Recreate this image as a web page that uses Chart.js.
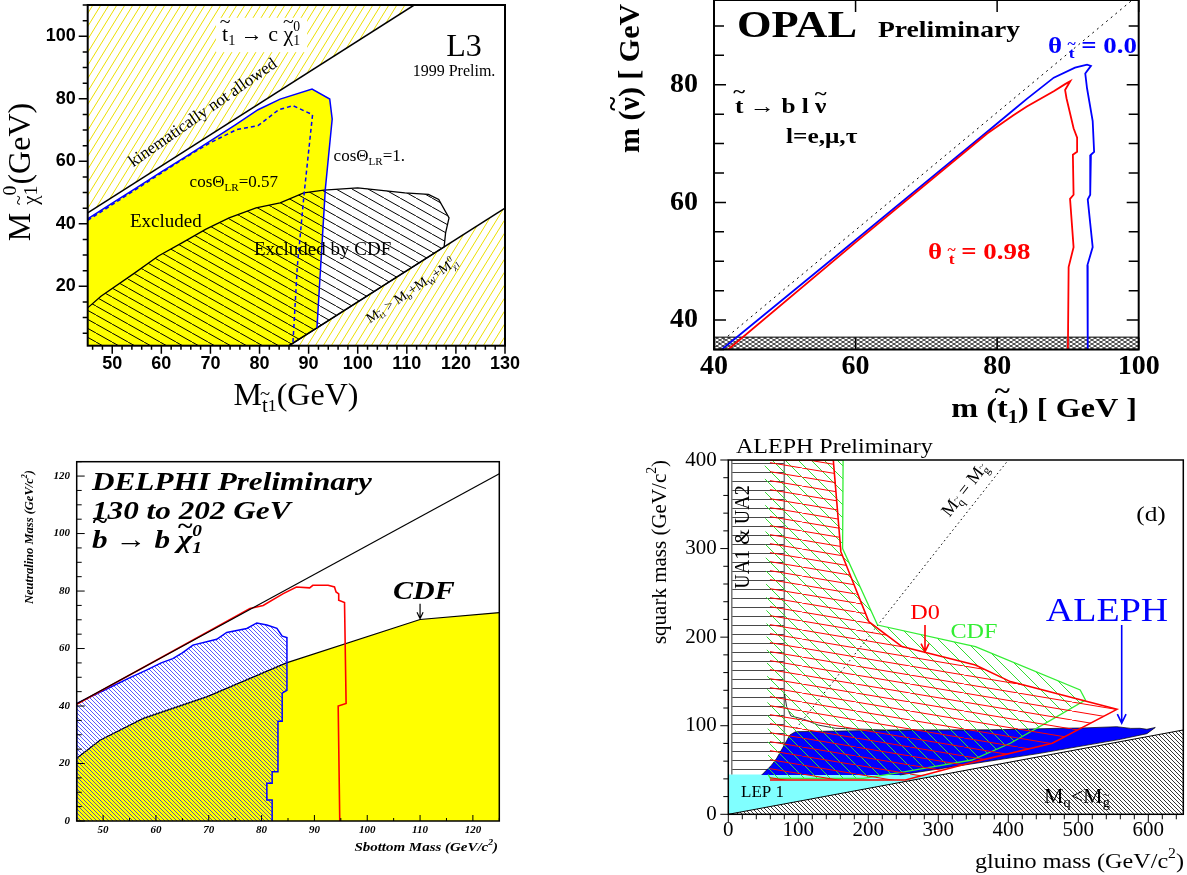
<!DOCTYPE html>
<html>
<head>
<meta charset="utf-8">
<title>Squark / sbottom / stop exclusion plots</title>
<script src="https://cdn.jsdelivr.net/npm/chart.js"></script>
<style>
  body { margin: 0; background: #fff; }
  #wrap { position: relative; width: 1187px; height: 875px; overflow: hidden; background: #fff; }
  canvas { position: absolute; }
</style>
</head>
<body>
<div id="wrap">
  <canvas id="l3" width="530" height="420" style="left:0;top:0"></canvas>
  <canvas id="opal" width="587" height="430" style="left:600px;top:0"></canvas>
  <canvas id="delphi" width="520" height="435" style="left:0;top:440px"></canvas>
  <canvas id="aleph" width="547" height="443" style="left:640px;top:432px"></canvas>
</div>
<script>
// ---------- data ----------

// L3: stop -> c chi
const l3XLabels = [50, 60, 70, 80, 90, 100, 110, 120, 130];
const l3YLabels = [20, 40, 60, 80, 100];
const l3Kin = [[45, 43.5], [111.5, 110]];
const l3W = [[86, 1], [130, 45]];
const l3Cos1 = [[45, 41.6], [50, 46.6], [55, 51.6], [60, 56.6], [65, 61.5], [70, 66.5], [75, 71.6], [79.7, 76.5],
  [84.2, 79.9], [90.7, 83.1], [94.3, 79.9], [94.8, 73.5], [93.4, 51.1], [91.7, 6.7]];
const l3Cos057 = [[45, 41.1], [55, 51.2], [65, 61.3], [69.8, 65.8], [75.3, 70.1], [79.7, 71.4], [83.9, 76.5],
  [86.8, 77.8], [90.8, 74.9], [89.1, 49.9], [87.7, 26.4], [86.8, 1.8]];
const l3Cdf = [[45, 13.1], [47.7, 16.8], [54.6, 24.3], [59.4, 29.7], [64.2, 33.9], [69, 38.2], [73.8, 41.9],
  [79.3, 45.1], [84.2, 46.7], [89, 49.9], [93.1, 50.8], [100, 51.5], [109.6, 49.9], [114.4, 49.4],
  [116.5, 47.8], [118.6, 41.9], [117.9, 37.1], [117.6, 32.6]];

// OPAL: stop -> b l sneutrino
const opXLabels = [40, 60, 80, 100];
const opYLabels = [40, 60, 80];
const opKin = [[40, 35.3], [99.4, 94.7]];
const opBand = [[40, 35], [100, 35], [100, 37.1], [40, 37.1]];
const opTheta0 = [[41.1, 35], [60, 53.6], [78.6, 72.0], [82.3, 75.7], [84.2, 77.6], [88, 81.2], [91, 82.9],
  [92.7, 83.4], [93.25, 83.2], [92.45, 81.9], [92.7, 79.4], [93.5, 73.8], [93.7, 68.6], [93.25, 68.1],
  [93.15, 61.3], [92.8, 60.5], [93.5, 52.4], [92.75, 49.3], [92.8, 35]];
const opTheta098 = [[42, 35], [60, 53.2], [78.6, 71.7], [82.3, 74.8], [84.2, 76.3], [88, 78.9], [89.6, 80.1],
  [90.33, 80.6], [89.6, 79.1], [89.8, 77.7], [90.8, 72.6], [91.3, 71.0], [91.3, 68.6], [90.7, 68.1],
  [90.8, 61.3], [90.3, 60.6], [90.8, 52.4], [90.1, 49.0], [90.0, 35]];

// DELPHI: sbottom -> b chi
const dlXLabels = [50, 60, 70, 80, 90, 100, 110, 120];
const dlYLabels = [0, 20, 40, 60, 80, 100, 120];
const dlKin = [[45, 40.8], [125, 120.8]];
const dlCdf = [[45, 21.8], [49.4, 28.1], [57.6, 35.7], [69.6, 43.2], [84.7, 55], [110, 70.1], [125, 72.5]];
const dlCdfArrow = [[110, 75.6], [110, 70.4]];
const dlBlue = [[45, 0], [45, 40.9], [50, 45.3], [55, 49.8], [58.2, 52.5], [61, 55], [63.2, 56.5], [65, 58.5],
  [67, 61.2], [71.5, 63.2], [73.4, 65.6], [77.2, 67], [79.1, 68.9], [81, 68.2], [82.9, 67], [83.9, 64.3],
  [84.8, 63.8], [84.8, 45.5], [83.9, 44.5], [83.9, 34.7], [83.1, 34.7], [83.1, 17.1], [82, 17.1], [82, 13.1],
  [81, 13.1], [81, 7.3], [82, 7.3], [82, 0]];
const dlRed = [[45, 40.6], [77.8, 73.9], [80.3, 75], [84.1, 79.1], [86.6, 81.4], [89.1, 81.1], [89.7, 82],
  [92.6, 82], [93.8, 81.4], [94.1, 79.7], [94.6, 79], [94.6, 76.8], [95.7, 76], [96, 40.9], [94.5, 40], [94.8, 0]];

// ALEPH: squark / gluino plane
const alXLabels = [0, 100, 200, 300, 400, 500, 600];
const alYLabels = [0, 100, 200, 300, 400];
const alDiag = [[0, 0], [650, 95.2]];
const alBelowDiag = [[0, 0], [650, 95.2], [650, 0]];
const alLep1 = [[0, 0], [0, 45], [307, 45]];
const alUA = [[5, 45], [5, 400], [80, 400], [80, 45]];
const alUAEdge = [[80, 137], [83.4, 121.5], [89.4, 111], [108.3, 107.2], [128.3, 100.8], [153.3, 97.1],
  [223, 95.2], [430, 95]];
const alEqual = [[97, 97], [400, 400]];
const alBlue = [[47.6, 44.4], [50, 46.3], [62, 55.6], [69.1, 63.2], [78.6, 76.3], [87.9, 89.5], [96, 93.3],
  [200, 94.5], [373, 95.2], [473, 97.1], [507, 97.5], [555, 98.9], [575, 97], [588, 97.1], [598, 96],
  [610, 98], [598, 91], [560, 84.6], [445, 68.8], [245, 44.4]];
const alCdf = [[52, 400], [164, 400], [163.3, 300], [213.2, 213.7], [353, 189.3], [502.7, 140.4], [510.2, 129.1],
  [452.8, 102.7], [402.9, 80.2], [348, 61.3], [253, 48.2], [193, 40.6], [60, 40.6], [57, 45]];
const alD0 = [[59.5, 400], [150, 400], [160.8, 296.5], [200.7, 217.5], [248.1, 189.3], [353, 168.6],
  [402.9, 149.8], [555.2, 118.5], [462.8, 80.2], [353, 59.5], [253.1, 38.8], [59.5, 38.8]];
const alD0Arrow = [[281, 213.7], [281, 183.5]];
const alAlephArrow = [[562, 213.7], [562, 103]];

// ---------- helpers ----------
const P = a => a.map(([x, y]) => ({ x, y }));
const decorCfg = {};

function hatch(id, o) {
  const t = document.createElement('canvas');
  t.width = o.w; t.height = o.h;
  const g = t.getContext('2d');
  if (o.bg) { g.fillStyle = o.bg; g.fillRect(0, 0, o.w, o.h); }
  g.strokeStyle = o.color; g.lineWidth = o.lw || 1;
  g.beginPath();
  for (let k = -1; k <= 1; k++) {
    if (o.dir.includes('\\')) { g.moveTo(k * o.w, 0); g.lineTo((k + 1) * o.w, o.h); }
    if (o.dir.includes('/')) { g.moveTo(k * o.w, o.h); g.lineTo((k + 1) * o.w, 0); }
  }
  if (o.dir.includes('-')) { g.moveTo(0, o.h / 2); g.lineTo(o.w, o.h / 2); }
  g.stroke();
  return document.getElementById(id).getContext('2d').createPattern(t, 'repeat');
}

function area(data, fill, line, width, dash) {
  return {
    data: P(data), fill: fill ? 'shape' : false, backgroundColor: fill || 'transparent',
    borderColor: line || 'transparent', borderWidth: width || 1, borderDash: dash || []
  };
}
const line = (data, color, width, dash) => area(data, null, color, width, dash);

function drawRich(ctx, L, off) {
  const base = L.size, fam = L.family || 'Liberation Serif';
  const font = s => (L.italic ? 'italic ' : '') + (L.bold ? 'bold ' : '') + s + 'px "' + fam + '"';
  const items = L.parts.map(p => typeof p === 'string' ? { t: p } : Object.assign({}, p));
  let w = 0;
  items.forEach(it => {
    if (it.sup !== undefined) {
      it.fs = base * 0.62; ctx.font = font(it.fs);
      it.w = Math.max(ctx.measureText(it.sup).width, ctx.measureText(it.sub).width) + 1;
    } else {
      it.fs = base * (it.v ? 0.65 : 1) * (it.k || 1); ctx.font = font(it.fs);
      it.w = ctx.measureText(it.t).width;
    }
    w += it.w;
  });
  ctx.save();
  ctx.translate(L.px[0] - off[0], L.px[1] - off[1]);
  if (L.rot) ctx.rotate(L.rot * Math.PI / 180);
  if (L.sx) ctx.scale(L.sx, 1);
  let x = L.align === 'right' ? -w : L.align === 'left' ? 0 : -w / 2;
  if (L.box) {
    ctx.fillStyle = '#fff';
    ctx.fillRect(x - 6, -base * 0.78, w + 12, base * 1.56);
  }
  ctx.fillStyle = L.color || '#000';
  ctx.textBaseline = 'middle'; ctx.textAlign = 'left';
  items.forEach(it => {
    ctx.font = font(it.fs);
    if (it.sup !== undefined) {
      ctx.fillText(it.sup, x, -base * 0.36);
      ctx.fillText(it.sub, x, base * 0.3);
    } else {
      const y = it.v === -1 ? base * 0.3 : it.v === 1 ? -base * 0.38 : 0;
      ctx.fillText(it.t, x, y);
      if (it.tl) {
        ctx.save(); ctx.textAlign = 'center'; ctx.font = font(it.fs * 0.9);
        ctx.fillText('~', x + it.w / 2, y - it.fs * (it.th || 0.55));
        ctx.restore();
      }
    }
    x += it.w;
  });
  ctx.restore();
}

const decor = {
  id: 'decor',
  afterDraw(chart) {
    const o = decorCfg[chart.canvas.id];
    const ctx = chart.ctx, a = chart.chartArea;
    ctx.save();
    ctx.strokeStyle = '#000';
    (o.marks || []).forEach(m => {
      const s = chart.scales[m.axis];
      ctx.lineWidth = m.lw || 1;
      ctx.beginPath();
      const first = Math.ceil(s.min / m.step - 1e-9) * m.step;
      for (let v = first; v <= s.max + 1e-9; v += m.step) {
        const vv = Math.round(v * 1000) / 1000;
        const len = m.major.includes(vv) ? m.len : m.mlen;
        const p = s.getPixelForValue(vv);
        const sg = m.side === 'in' ? 1 : -1;
        if (m.axis === 'x') {
          ctx.moveTo(p, a.bottom); ctx.lineTo(p, a.bottom - sg * len);
          if (m.mirror) { ctx.moveTo(p, a.top); ctx.lineTo(p, a.top + len); }
        } else {
          ctx.moveTo(a.left, p); ctx.lineTo(a.left + sg * len, p);
          if (m.mirror) { ctx.moveTo(a.right, p); ctx.lineTo(a.right - len, p); }
        }
      }
      ctx.stroke();
    });
    ctx.lineWidth = o.frame;
    ctx.strokeRect(a.left, a.top, a.right - a.left, a.bottom - a.top);
    const sx = chart.scales.x, sy = chart.scales.y;
    (o.arrows || []).forEach(ar => {
      const [x0, y0] = [sx.getPixelForValue(ar.data[0][0]), sy.getPixelForValue(ar.data[0][1])];
      const [x1, y1] = [sx.getPixelForValue(ar.data[1][0]), sy.getPixelForValue(ar.data[1][1])];
      const ang = Math.atan2(y1 - y0, x1 - x0), h = ar.head;
      ctx.strokeStyle = ar.color; ctx.lineWidth = ar.width;
      ctx.beginPath();
      ctx.moveTo(x0, y0); ctx.lineTo(x1, y1);
      ctx.moveTo(x1 - h * Math.cos(ang - 0.45), y1 - h * Math.sin(ang - 0.45));
      ctx.lineTo(x1, y1);
      ctx.lineTo(x1 - h * Math.cos(ang + 0.45), y1 - h * Math.sin(ang + 0.45));
      ctx.stroke();
    });
    (o.labels || []).forEach(L => drawRich(ctx, L, o.offset));
    ctx.restore();
  }
};

function axis(min, max, labels, font, pad, size, isX) {
  return {
    type: 'linear', min, max,
    grid: { display: false, drawTicks: false },
    border: { display: false },
    ticks: { font, color: '#000', padding: pad, autoSkip: false, maxRotation: 0, minRotation: 0 },
    afterBuildTicks: s => { s.ticks = labels.map(v => ({ value: v })); },
    afterFit: s => {
      if (isX) s.height = size; else s.width = size;
      s.paddingLeft = s.paddingRight = s.paddingTop = s.paddingBottom = 0;
    }
  };
}

function makeChart(id, c) {
  const n = c.datasets.length;
  c.datasets.forEach((d, i) => { d.order = n - i; d.pointRadius = 0; d.tension = 0; });
  decorCfg[id] = c.decor;
  return new Chart(document.getElementById(id), {
    type: 'line',
    data: { datasets: c.datasets },
    options: {
      responsive: false, animation: false, events: [],
      layout: { padding: c.pad },
      plugins: { legend: { display: false }, tooltip: { enabled: false }, title: { display: false } },
      scales: { x: c.x, y: c.y }
    },
    plugins: [decor]
  });
}

const t = (s, o) => Object.assign({ t: s }, o || {});

// ---------- L3 ----------
{
  const sans = { family: 'Liberation Sans', size: 18, weight: 'bold' };
  const yHatch = hatch('l3', { w: 8, h: 13, dir: '/', color: '#ecdf00', lw: 1 });
  const kHatch = hatch('l3', { w: 16, h: 9, dir: '\\', color: '#000', lw: 1 });
  makeChart('l3', {
    pad: { left: 0, top: 5, right: 25, bottom: 0 },
    x: axis(45, 130, l3XLabels, sans, 7.5, 74.3, true),
    y: axis(1, 110, l3YLabels, sans, 12, 87.7, false),
    datasets: [
      area([[45, 1], ...l3Cos1, [86, 1]], '#ffff00'),
      area([...l3Cdf, [86, 1], [45, 1]], kHatch, '#000', 1.3),
      area([...l3Kin, [45, 110]], yHatch),
      area([...l3W, [130, 1]], yHatch),
      line(l3Kin, '#000', 1.5),
      line(l3W, '#000', 1.5),
      line(l3Cos1, '#0000ff', 1.5),
      line(l3Cos057, '#0000ff', 1.5, [4, 3])
    ],
    decor: {
      offset: [0, 0], frame: 2,
      marks: [
        { axis: 'x', step: 2, major: l3XLabels, len: 8, mlen: 4, side: 'out', lw: 1.5 },
        { axis: 'y', step: 5, major: l3YLabels, len: 9, mlen: 5, side: 'out', lw: 1.5 }
      ],
      labels: [
        { px: [261.6, 35], size: 22, box: true,
          parts: [t('t', { tl: 1 }), t('1', { v: -1 }), ' \u2192 c ', t('\u03c7', { tl: 1 }), { sup: '0', sub: '1' }] },
        { px: [464, 48], size: 32, parts: ['L3'] },
        { px: [454, 72], size: 16, parts: ['1999 Prelim.'] },
        { px: [203, 113], size: 17, rot: -35, parts: ['kinematically not allowed'] },
        { px: [333.6, 157], size: 17, align: 'left', parts: ['cos\u0398', t('LR', { v: -1 }), '=1.'] },
        { px: [189.6, 183], size: 17, align: 'left', parts: ['cos\u0398', t('LR', { v: -1 }), '=0.57'] },
        { px: [130, 222], size: 19, align: 'left', parts: ['Excluded'] },
        { px: [254, 250], size: 19, align: 'left', parts: ['Excluded by CDF'] },
        { px: [413, 290], size: 14, rot: -34,
          parts: ['M', t('t', { v: -1, tl: 1 }), t('1', { v: -1, k: 0.8 }), ' > M', t('b', { v: -1 }), '+M',
            t('W', { v: -1 }), '+M', { sup: '0', sub: '\u03c71' }] },
        { px: [22, 172], size: 32, rot: -90,
          parts: ['M ', t('\u03c7', { v: -1, tl: 1 }), { sup: '0', sub: '1' }, '(GeV)'] },
        { px: [296, 397], size: 32,
          parts: ['M', t('t', { v: -1, tl: 1 }), t('1', { v: -1, k: 0.85 }), '(GeV)'] }
      ]
    }
  });
}

// ---------- OPAL ----------
{
  const serif = { family: 'Liberation Serif', size: 28, weight: 'bold' };
  const band = hatch('opal', { w: 6, h: 4, dir: '/\\', color: '#000', lw: 0.8, bg: '#fff' });
  makeChart('opal', {
    pad: { left: 0, top: 0, right: 48.3, bottom: 0 },
    x: axis(40, 100, opXLabels, serif, 0, 80.5, true),
    y: axis(35, 94.4, opYLabels, serif, 16, 114, false),
    datasets: [
      area(opBand, band, '#000', 1),
      line(opKin, '#000', 1, [2, 4]),
      line(opTheta0, '#0000ff', 1.8),
      line(opTheta098, '#ff0000', 1.8)
    ],
    decor: {
      offset: [600, 0], frame: 2,
      marks: [
        { axis: 'x', step: 20, major: opXLabels, len: 12, mlen: 6, side: 'in', mirror: true, lw: 1.5 },
        { axis: 'y', step: 5, major: opYLabels, len: 12, mlen: 10, side: 'in', mirror: true, lw: 1.5 }
      ],
      labels: [
        { px: [737, 27], size: 37, bold: true, sx: 1.2, align: 'left', parts: ['OPAL'] },
        { px: [878, 31], size: 23, bold: true, sx: 1.2, align: 'left', parts: ['Preliminary'] },
        { px: [1048, 47], size: 24, bold: true, sx: 1.12, align: 'left', color: '#0000ff',
          parts: ['\u03b8 ', t('t', { v: -1, tl: 1 }), ' = 0.0'] },
        { px: [735, 107], size: 22, bold: true, sx: 1.15, align: 'left',
          parts: [t('t', { tl: 1, th: 0.62 }), ' \u2192 b l ', t('\u03bd', { tl: 1 })] },
        { px: [786, 137], size: 22, bold: true, sx: 1.15, align: 'left', parts: ['l=e,\u03bc,\u03c4'] },
        { px: [928, 253], size: 24, bold: true, sx: 1.12, align: 'left', color: '#ff0000',
          parts: ['\u03b8 ', t('t', { v: -1, tl: 1 }), ' = 0.98'] },
        { px: [631, 153], size: 30, bold: true, rot: -90, align: 'left',
          parts: ['m (', t('\u03bd', { tl: 1 }), ') [ GeV ]'] },
        { px: [1137, 410], size: 28, bold: true, sx: 1.15, align: 'right',
          parts: ['m (', t('t', { tl: 1, th: 0.62 }), t('1', { v: -1 }), ') [ GeV ]'] }
      ]
    }
  });
}

// ---------- DELPHI ----------
{
  const small = { family: 'Liberation Serif', size: 11, weight: 'bold', style: 'italic' };
  const blueHatch = hatch('delphi', { w: 4, h: 4, dir: '\\', color: '#0000ff', lw: 0.65 });
  makeChart('delphi', {
    pad: { left: 0, top: 21.7, right: 20.7, bottom: 0 },
    x: axis(45, 125, dlXLabels, small, 2.4, 54, true),
    y: axis(0, 125, dlYLabels, small, 6.7, 76.7, false),
    datasets: [
      area([[45, 0], ...dlCdf, [125, 0]], '#ffff00'),
      line(dlCdf, '#000', 1.2),
      area(dlBlue, blueHatch, '#0000ff', 1.5),
      line(dlRed, '#ff0000', 1.6),
      line(dlKin, '#000', 1.2)
    ],
    decor: {
      offset: [0, 440], frame: 1.5,
      marks: [
        { axis: 'x', step: 5, major: dlXLabels, len: 6, mlen: 3, side: 'in' },
        { axis: 'y', step: 5, major: dlYLabels, len: 8, mlen: 5, side: 'in' }
      ],
      arrows: [{ data: dlCdfArrow, color: '#000', width: 1.2, head: 7 }],
      labels: [
        { px: [92, 483], size: 26, bold: true, italic: true, sx: 1.2, align: 'left', parts: ['DELPHI Preliminary'] },
        { px: [92, 512], size: 26, bold: true, italic: true, sx: 1.2, align: 'left', parts: ['130 to 202 GeV'] },
        { px: [92, 541], size: 26, bold: true, italic: true, sx: 1.2, align: 'left',
          parts: [t('b', { tl: 1, th: 0.75 }), ' \u2192 b ', t('\u03c7', { tl: 1 }), { sup: '0', sub: '1' }] },
        { px: [393, 593], size: 25, bold: true, italic: true, sx: 1.2, align: 'left', parts: ['CDF'] },
        { px: [30, 537], size: 12.5, bold: true, italic: true, rot: -90,
          parts: ['Neutralino Mass (GeV/c', t('2', { v: 1 }), ')'] },
        { px: [498, 848], size: 13, bold: true, italic: true, sx: 1.15, align: 'right',
          parts: ['Sbottom Mass (GeV/c', t('2', { v: 1 }), ')'] }
      ]
    }
  });
}

// ---------- ALEPH ----------
{
  const serif = { family: 'Liberation Serif', size: 21 };
  const diagHatch = hatch('aleph', { w: 4, h: 4, dir: '\\', color: '#000', lw: 0.8, bg: '#fff' });
  const uaHatch = hatch('aleph', { w: 9, h: 9, dir: '-', color: '#333', lw: 0.9 });
  const greenHatch = hatch('aleph', { w: 13, h: 13, dir: '\\', color: '#33dd33', lw: 1 });
  const redHatch = hatch('aleph', { w: 54, h: 9, dir: '\\', color: '#ff0000', lw: 1 });
  makeChart('aleph', {
    pad: { left: 0, top: 28, right: 3.7, bottom: 0 },
    x: axis(0, 650, alXLabels, serif, 3.1, 60.7, true),
    y: axis(0, 400, alYLabels, serif, 11.6, 88.3, false),
    datasets: [
      area(alLep1, '#80ffff'),
      area(alBelowDiag, diagHatch),
      line(alDiag, '#000', 1),
      area(alUA, uaHatch, '#777', 1.5),
      line(alUAEdge, '#000', 0.8),
      line(alEqual, '#000', 1, [1.5, 3]),
      area(alBlue, '#0000ff', '#000', 0.7),
      area(alCdf, greenHatch, '#33ee33', 1.3),
      area(alD0, redHatch, '#ff0000', 1.6)
    ],
    decor: {
      offset: [640, 432], frame: 1.5,
      marks: [
        { axis: 'x', step: 20, major: alXLabels, len: 8, mlen: 5, side: 'out' },
        { axis: 'y', step: 20, major: alYLabels, len: 8, mlen: 5, side: 'out' }
      ],
      arrows: [
        { data: alD0Arrow, color: '#ff0000', width: 1.6, head: 9 },
        { data: alAlephArrow, color: '#0000ff', width: 1.6, head: 10 }
      ],
      labels: [
        { px: [736, 448], size: 20, sx: 1.2, align: 'left', parts: ['ALEPH Preliminary'] },
        { px: [744, 537], size: 20, rot: -90, parts: ['UA1 & UA2'] },
        { px: [1151, 515], size: 22, sx: 1.15, parts: ['(d)'] },
        { px: [965, 490], size: 18, rot: -52,
          parts: ['M', t('q', { v: -1, tl: 1 }), ' = M', t('g', { v: -1, tl: 1 })] },
        { px: [925, 613], size: 22, color: '#ff0000', sx: 1.1, parts: ['D0'] },
        { px: [974, 632], size: 22, color: '#33ee33', sx: 1.1, parts: ['CDF'] },
        { px: [1107, 612], size: 33, color: '#0000ff', sx: 1.15, parts: ['ALEPH'] },
        { px: [741, 793], size: 17, align: 'left', parts: ['LEP 1'] },
        { px: [1044, 797], size: 22, align: 'left',
          parts: ['M', t('q', { v: -1 }), '<M', t('g', { v: -1, tl: 1 })] },
        { px: [660, 552], size: 21, rot: -90, parts: ['squark mass (GeV/c', t('2', { v: 1 }), ')'] },
        { px: [1184, 862], size: 21, sx: 1.15, align: 'right', parts: ['gluino mass (GeV/c', t('2', { v: 1 }), ')'] }
      ]
    }
  });
}
</script>
</body>
</html>
